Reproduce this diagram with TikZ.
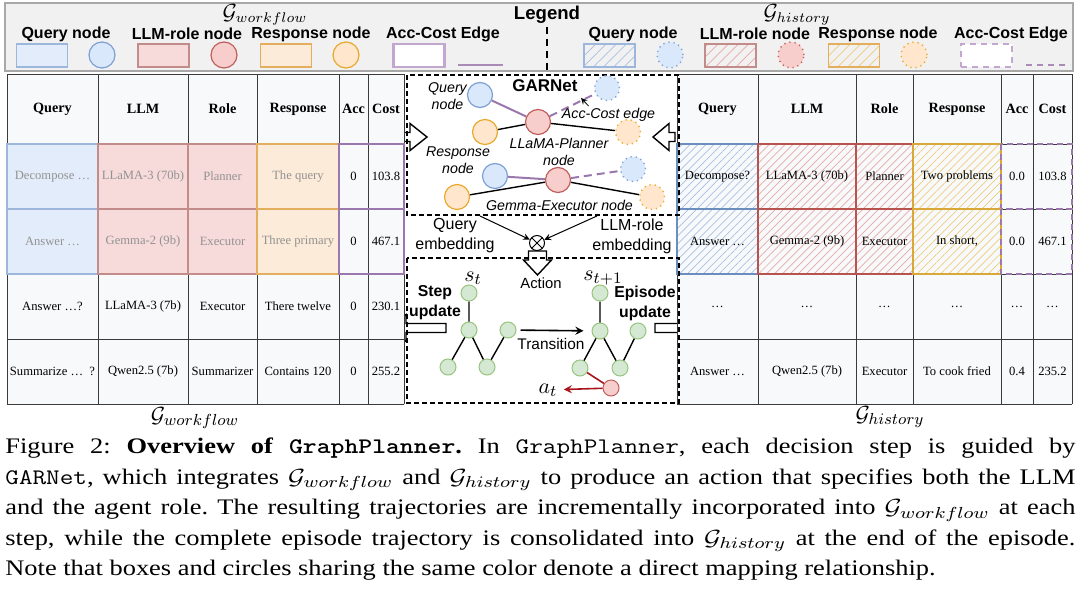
\documentclass[tikz,border=0pt]{standalone}
\usepackage{fontspec}
\setmainfont{Liberation Serif}
\setsansfont{Liberation Sans}
\usepackage{tikz}
\usetikzlibrary{arrows, patterns.meta, positioning}
\tikzset{>=stealth}

% colours
\definecolor{legbg}{HTML}{F1F1F1}
\definecolor{legln}{HTML}{A8A8A8}
\definecolor{tabbg}{HTML}{F8F9FA}
\definecolor{gridln}{HTML}{3A3A3A}
\definecolor{fadetxt}{HTML}{929292}
\definecolor{qfillc}{HTML}{E3ECFA}
\definecolor{qlinec}{HTML}{9DB6DC}
\definecolor{lfillc}{HTML}{F7DADA}
\definecolor{llinec}{HTML}{C28C8A}
\definecolor{rfillc}{HTML}{FCEBD8}
\definecolor{rlinec}{HTML}{E3AE5E}
\definecolor{accc}{HTML}{9A77AC}
\definecolor{accl}{HTML}{C2A8CE}
\definecolor{qnodec}{HTML}{DAE8FC}
\definecolor{qnodeln}{HTML}{7EA0D4}
\definecolor{lnodec}{HTML}{F8CECC}
\definecolor{lnodeln}{HTML}{C0605C}
\definecolor{rnodec}{HTML}{FFE6CC}
\definecolor{rnodeln}{HTML}{E8A92C}
\definecolor{gnodec}{HTML}{D5E8D4}
\definecolor{gnodeln}{HTML}{97C47E}
\definecolor{qhatchc}{HTML}{A9C0E4}
\definecolor{lhatchc}{HTML}{E6A9A6}
\definecolor{rhatchc}{HTML}{F0CB7C}
\definecolor{qhistln}{HTML}{6C8EBF}
\definecolor{lhistln}{HTML}{B85450}
\definecolor{rhistln}{HTML}{D8A838}
\definecolor{actred}{HTML}{A8161B}

\tikzset{
  cell/.style={inner sep=0pt, font=\fontsize{6.3}{7.5}\selectfont},
  headcell/.style={inner sep=0pt, font=\bfseries\fontsize{7.1}{8.5}\selectfont},
  legtxt/.style={inner sep=0pt, font=\sffamily\bfseries\fontsize{8}{9.6}\selectfont},
  glabel/.style={inner sep=0pt, font=\fontsize{11}{13}\selectfont},
  itlabel/.style={inner sep=0pt, align=center, font=\sffamily\itshape\fontsize{7.1}{8.5}\selectfont},
  embtxt/.style={inner sep=0pt, align=center, font=\sffamily\fontsize{8}{10}\selectfont},
  updtxt/.style={inner sep=0pt, align=center, font=\sffamily\bfseries\fontsize{7.9}{10}\selectfont},
  panel/.style={line width=0.6pt, dash pattern=on 2.5pt off 1.5pt},
  legbox/.style={minimum width=25.5pt, minimum height=11.5pt, inner sep=0pt},
  gdot/.style={circle, minimum size=12.5pt, inner sep=0pt, line width=0.6pt},
  qn/.style={gdot, fill=qnodec, draw=qnodeln},
  ln/.style={gdot, fill=lnodec, draw=lnodeln},
  rn/.style={gdot, fill=rnodec, draw=rnodeln},
  hist/.style={dotted, line width=0.7pt},
  tn/.style={circle, minimum size=8pt, inner sep=0pt, fill=gnodec, draw=gnodeln, line width=0.5pt},
  edgeacc/.style={accc, line width=1pt},
  edgeblk/.style={line width=0.7pt},
  qcellwf/.style={fill=qfillc, draw=qlinec, line width=0.6pt},
  lcellwf/.style={fill=lfillc, draw=llinec, line width=0.6pt},
  rcellwf/.style={fill=rfillc, draw=rlinec, line width=0.6pt},
  hatch/.style={pattern={Lines[angle=45,distance=2.8pt,line width=0.35pt]}, line width=0.6pt},
  qhatch/.style={hatch, pattern color=qhatchc, draw=qhistln},
  lhatch/.style={hatch, pattern color=lhatchc, draw=lhistln},
  rhatch/.style={hatch, pattern color=rhatchc, draw=rhistln},
  leghatch/.style={pattern={Lines[angle=45,distance=3.6pt,line width=0.35pt]}, line width=0.6pt},
  pics/hollowarrow/.style n args={4}{code={
    \draw[fill=white, line width=0.7pt, line join=miter]
      (-#1,-#4) -- (-#2,-#4) -- (-#2,-#3) -- (0,0) -- (-#2,#3) -- (-#2,#4) -- (-#1,#4) -- cycle;
  }},
}

\begin{document}
\begin{tikzpicture}[x=0.5pt, y=-0.5pt]
\useasboundingbox (0,0) rectangle (1080,589);

% ---- legend
\draw[legln, fill=legbg, line width=0.6pt] (5,3) rectangle (1073,71);
\node[inner sep=0pt, font=\sffamily\bfseries\fontsize{9.3}{11}\selectfont] (legend) at (547,15) {Legend};
\draw[line width=1.1pt, dash pattern=on 3.5pt off 2.5pt] (547,27) -- (547,71);
\node[glabel, font=\fontsize{10.5}{12}\selectfont] (wflegend) at (265,15) {$\mathcal{G}_{workflow}$};
\node[glabel, font=\fontsize{10.5}{12}\selectfont] (hilegend) at (797,15) {$\mathcal{G}_{history}$};
\foreach \t/\x [count=\i] in {Query node/66, LLM-role node/187, Response node/311, Acc-Cost Edge/443,
    Query node/633, LLM-role node/755, Response node/878, Acc-Cost Edge/1011}
  \node[legtxt] (lgt\i) at (\x,34) {\t};
\node[legbox, qcellwf] (lgq) at (42,55.5) {};
\node[qn, minimum size=13pt] (lgqn) at (102,55) {};
\node[legbox, lcellwf] (lgl) at (163.5,55.5) {};
\node[ln, minimum size=13pt] (lgln) at (224,55) {};
\node[legbox, rcellwf] (lgr) at (286,55.5) {};
\node[rn, minimum size=13pt] (lgrn) at (346,55) {};
\node[legbox, draw=accl, fill=white, line width=1.3pt] (lga) at (419,55.5) {};
\coordinate (lgae1) at (458,64.5);
\coordinate (lgae2) at (503,64.5);
\draw[accc!85!white, line width=1pt] (lgae1) -- (lgae2);
\node[legbox, leghatch, pattern color=qhatchc, draw=qlinec] (lhq) at (609.5,55.5) {};
\node[qn, hist, minimum size=13pt] (lhqn) at (670,55) {};
\node[legbox, leghatch, pattern color=lhatchc, draw=llinec] (lhl) at (730.5,55.5) {};
\node[ln, hist, minimum size=13pt] (lhln) at (791,55) {};
\node[legbox, leghatch, pattern color=rhatchc, draw=rlinec] (lhr) at (854,55.5) {};
\node[rn, hist, minimum size=13pt] (lhrn) at (914,55) {};
\node[legbox, draw=accl, fill=white, line width=1.3pt, dash pattern=on 3pt off 2.5pt] (lha) at (986.5,55.5) {};
\coordinate (lhae1) at (1026,64.5);
\coordinate (lhae2) at (1070,64.5);
\draw[accc!85!white, line width=1pt, dash pattern=on 3pt off 2.5pt] (lhae1) -- (lhae2);

% ---- block arrows (under the panels)
\pic at (427,137) {hollowarrow={30}{17}{13.5}{4.5}};
\pic[rotate=180] at (653,137) {hollowarrow={22}{16}{13.5}{4.5}};
\pic[rotate=180] at (389,328) {hollowarrow={57}{17}{13.5}{4.5}};
\pic at (699,328) {hollowarrow={44}{17}{13.5}{4.5}};
\pic[rotate=-90] at (537.5,275) {hollowarrow={24}{15}{14}{9}};

% ---- G_workflow table
\fill[tabbg] (7,74) rectangle (404,404);
\foreach \x in {7,98,188,257,339,368,404} \draw[gridln, line width=0.5pt] (\x,74) -- (\x,404);
\foreach \y in {74,144,209,274,339,404} \draw[gridln, line width=0.5pt] (7,\y) -- (404,\y);
\foreach \y in {144,209}{
  \draw[qcellwf] (7,\y) rectangle (98,\y+65);
  \draw[lcellwf] (98,\y) rectangle (188,\y+65);
  \draw[lcellwf] (188,\y) rectangle (257,\y+65);
  \draw[rcellwf] (257,\y) rectangle (339,\y+65);
  \draw[accc, line width=1.2pt] (339,\y) rectangle (404,\y+65);
}
\foreach \t/\x [count=\i] in {Query/52.5,LLM/143,Role/222.5,Response/298,Acc/353.5,Cost/386}
  \node[headcell] (wfh\i) at (\x,109) {\t};
\foreach \row [count=\j] in {{Decompose \ldots,LLaMA-3 (70b),Planner,The query,0,103.8},
    {Answer \ldots,Gemma-2 (9b),Executor,Three primary,0,467.1},
    {Answer \ldots?,LLaMA-3 (7b),Executor,There twelve,0,230.1},
    {Summarize \ldots\enspace?,Qwen2.5 (7b),Summarizer,Contains 120,0,255.2}}{
  \pgfmathsetmacro\ry{176.5+65*(\j-1)}
  \foreach \t [count=\i] in \row {
    \pgfmathtruncatemacro\fade{(\j<3)*(\i<5)}
    \ifnum\fade=1 \def\tc{fadetxt}\else\def\tc{black}\fi
    \node[cell, text=\tc] (wf\j\i) at (wfh\i |- 0,\ry) {\t};
  }
}
\node[glabel] (wftitle) at (195,418) {$\mathcal{G}_{workflow}$};

% ---- G_history table
\fill[tabbg] (677,74) rectangle (1072,404);
\foreach \x in {677,758,856,913,1001,1033,1072} \draw[gridln, line width=0.5pt] (\x,74) -- (\x,404);
\foreach \y in {74,144,209,274,339,404} \draw[gridln, line width=0.5pt] (677,\y) -- (1072,\y);
\foreach \y in {144,209}{
  \draw[qhatch] (677,\y) rectangle (758,\y+65);
  \draw[lhatch] (758,\y) rectangle (856,\y+65);
  \draw[lhatch] (856,\y) rectangle (913,\y+65);
  \draw[rhatch] (913,\y) rectangle (1001,\y+65);
  \draw[accc, line width=1.2pt, dash pattern=on 3pt off 2pt] (1001,\y) rectangle (1072,\y+65);
}
\foreach \t/\x [count=\i] in {Query/717.5,LLM/807,Role/884.5,Response/957,Acc/1017,Cost/1052.5}
  \node[headcell] (hih\i) at (\x,109) {\t};
\foreach \row [count=\j] in {{Decompose?,LLaMA-3 (70b),Planner,Two problems,0.0,103.8},
    {Answer \ldots,Gemma-2 (9b),Executor,{In short,},0.0,467.1},
    {\ldots,\ldots,\ldots,\ldots,\ldots,\ldots},
    {Answer \ldots,Qwen2.5 (7b),Executor,To cook fried,0.4,235.2}}{
  \pgfmathsetmacro\ry{176.5+65*(\j-1)}
  \foreach \t [count=\i] in \row
    \node[cell] (hi\j\i) at (hih\i |- 0,\ry) {\t};
}
\node[glabel] (hititle) at (890,417) {$\mathcal{G}_{history}$};

% ---- GARNet panel
\draw[panel] (407,75) rectangle (679,215);
\node[inner sep=0pt, font=\sffamily\bfseries\fontsize{8.5}{10}\selectfont] (garnet) at (545,86) {GARNet};
\node[qn] (gq1) at (480,95) {};
\node[ln] (gp) at (538,122) {};
\node[qn, hist] (gh1) at (607,88) {};
\node[rn] (gr1) at (485,132) {};
\node[rn, hist] (gh2) at (628,132) {};
\node[qn] (gq2) at (495,176) {};
\node[ln] (ge) at (558,180) {};
\node[qn, hist] (gh3) at (633,169) {};
\node[rn] (gr2) at (457,197) {};
\node[rn, hist] (gh4) at (652,197) {};
\draw[edgeacc] (gq1) -- (gp);
\draw[edgeacc, dash pattern=on 4pt off 2.5pt] (gp) -- (gh1);
\draw[edgeblk] (gr1) -- (gp) -- (gh2);
\draw[edgeacc] (gq2) -- (ge);
\draw[edgeacc, dash pattern=on 4pt off 2.5pt] (ge) -- (gh3);
\draw[edgeblk] (gr2) -- (ge) -- (gh4);
\node[itlabel] (qlbl) at (447.5,96.5) {Query\\node};
\node[itlabel] (rlbl) at (458,160.5) {Response\\node};
\node[itlabel] (plbl) at (559,151.5) {LLaMA-Planner\\node};
\node[itlabel] (elbl) at (559.5,205) {Gemma-Executor node};
\node[itlabel] (acclbl) at (608.5,115) {Acc-Cost edge};
\coordinate (accptr) at (581,98);
\draw[->, line width=0.4pt] ([xshift=13.5pt, yshift=1pt]acclbl.north west) -- (accptr);

% ---- embeddings and action
\node[embtxt] (qembl) at (455,236) {Query\\embedding};
\node[embtxt] (lembl) at (632,236) {LLM-role\\embedding};
\node[circle, draw, minimum size=7.5pt, inner sep=0pt, line width=0.5pt,
  path picture={\draw[line width=0.5pt] (path picture bounding box.north west) -- (path picture bounding box.south east)
    (path picture bounding box.north east) -- (path picture bounding box.south west);}] (mix) at (537,243) {};
\coordinate (qemb) at (480,216);
\coordinate (lemb) at (597,216);
\draw[->, line width=0.5pt] (qemb) -- (mix);
\draw[->, line width=0.5pt] (lemb) -- (mix);
\node[embtxt, font=\sffamily\fontsize{7.4}{9}\selectfont] (action) at (541,283.5) {Action};

% ---- state transition panel
\draw[panel] (407,258) rectangle (679,403);
\foreach \n/\x/\y in {1/469/293, 2/469/330, 3/508/330, 4/448/367, 5/487/367}
  \node[tn] (sl\n) at (\x,\y) {};
\foreach \n/\x/\y in {1/600/293, 2/600/331, 3/638/331, 4/580/368, 5/620/368}
  \node[tn] (sr\n) at (\x,\y) {};
\foreach \s in {sl,sr}
  \draw[edgeblk] (\s1) -- (\s2) -- (\s4) (\s2) -- (\s5) -- (\s3);
\node[glabel] (st) at (473,278) {$s_t$};
\node[glabel] (stnext) at (603,278) {$s_{t+1}$};
\draw[->, line width=0.8pt, shorten <=2pt, shorten >=4pt] (sl3) -- (sr2);
\node[embtxt, font=\sffamily\fontsize{7.7}{9}\selectfont] (trans) at (551,344) {Transition};
\node[tn, fill=lnodec, draw=lnodeln] (act) at (611,388) {};
\node[glabel] (at) at (548,390) {$a_t$};
\draw[actred, line width=0.8pt] (sr4) -- (act);
\draw[->, actred, line width=0.8pt, shorten >=3pt] (act) -- (at);
\node[updtxt] (stepup) at (435,303) {Step\\update};
\node[updtxt] (epiup) at (645,303) {Episode\\update};

% ---- caption
\node[anchor=north west, inner sep=0pt] (caption) at (5,437.7) {\scalebox{1.19}[1]{\parbox[t]{449.6pt}{%
  \fontsize{11.1}{15.25}\selectfont\frenchspacing
  Figure 2: \textbf{Overview of \texttt{GraphPlanner}.} In \texttt{GraphPlanner}, each decision step is guided by\linebreak
  \texttt{GARNet}, which integrates $\mathcal{G}_{workflow}$ and $\mathcal{G}_{history}$ to produce an action that specifies both the LLM\linebreak
  and the agent role. The resulting trajectories are incrementally incorporated into $\mathcal{G}_{workflow}$ at each\linebreak
  step, while the complete episode trajectory is consolidated into $\mathcal{G}_{history}$ at the end of the episode.\linebreak
  Note that boxes and circles sharing the same color denote a direct mapping relationship.}}};
\end{tikzpicture}
\end{document}
